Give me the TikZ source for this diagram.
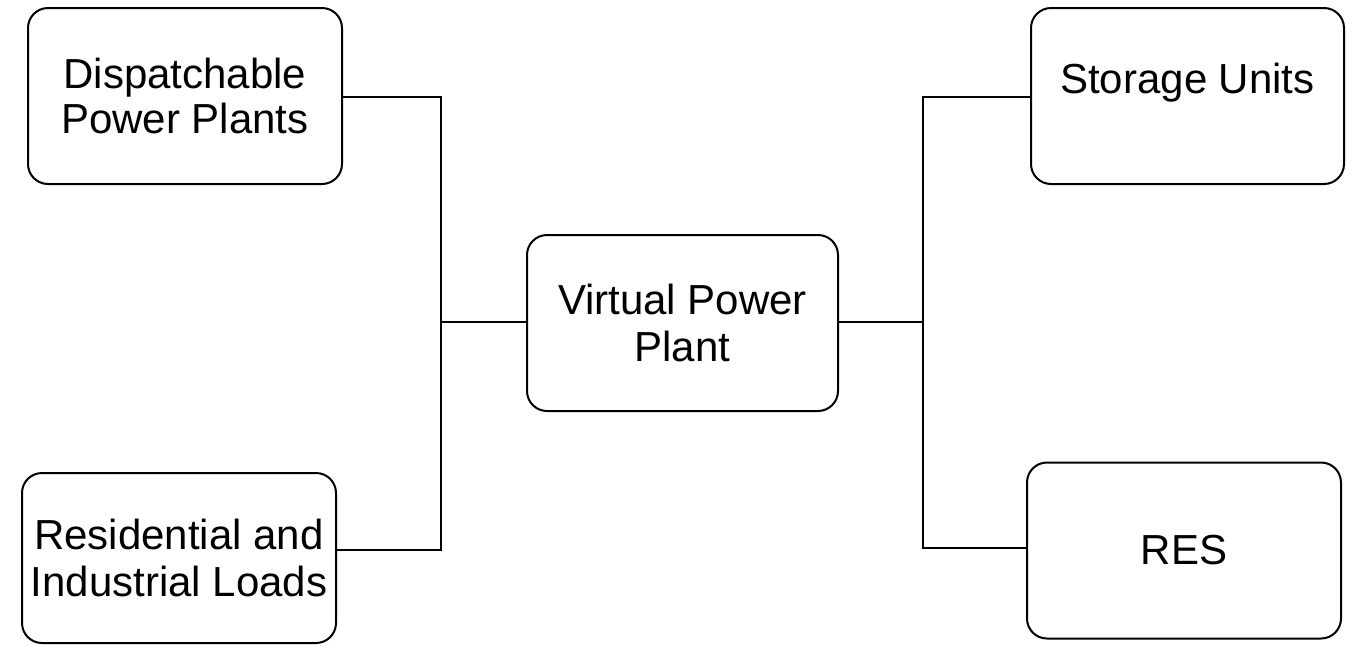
\documentclass[tikz,border=0pt]{standalone}
\usepackage{fontspec}
\setmainfont{Liberation Sans}
\begin{document}
\begin{tikzpicture}[x=0.5pt,y=-0.5pt,
  box/.style={draw=black,line width=1pt,rounded corners=10pt,inner sep=0pt,
    minimum width=157pt,minimum height=88pt,align=center,
    font=\fontsize{21}{22.5}\selectfont},
  txt/.style={inner sep=0pt,align=center,font=\fontsize{21}{22.5}\selectfont},
  wire/.style={draw=black,line width=0.75pt}]
\useasboundingbox (0,0) rectangle (1357,645);
\node[box] (dpp) at (185,96) {Dispatchable\\Power Plants};
\node[box,minimum height=85pt] (ril) at (179,558) {Residential and\\[1pt]Industrial Loads};
\node[box,minimum width=155.5pt,font=\fontsize{21}{23.5}\selectfont] (vpp) at (682.5,323) {Virtual Power\\Plant};
\node[box,minimum width=156.5pt] (sto) at (1187.5,96) {};
\node[txt] (stotext) at (1187.5,83) {Storage Units};
\node[box] (res) at (1184,550.5) {RES};
\coordinate (jlt) at (441,97);
\coordinate (jlm) at (441,322);
\coordinate (jlb) at (441,550);
\coordinate (jrt) at (923,97);
\coordinate (jrm) at (923,322);
\coordinate (jrb) at (923,548);
\draw[wire] (dpp.east |- jlt) -- (jlt) -- (jlb) -- (ril.east |- jlb);
\draw[wire] (jlm) -- (vpp.west |- jlm);
\draw[wire] (vpp.east |- jrm) -- (jrm);
\draw[wire] (sto.west |- jrt) -- (jrt) -- (jrb) -- (res.west |- jrb);
\end{tikzpicture}
\end{document}
